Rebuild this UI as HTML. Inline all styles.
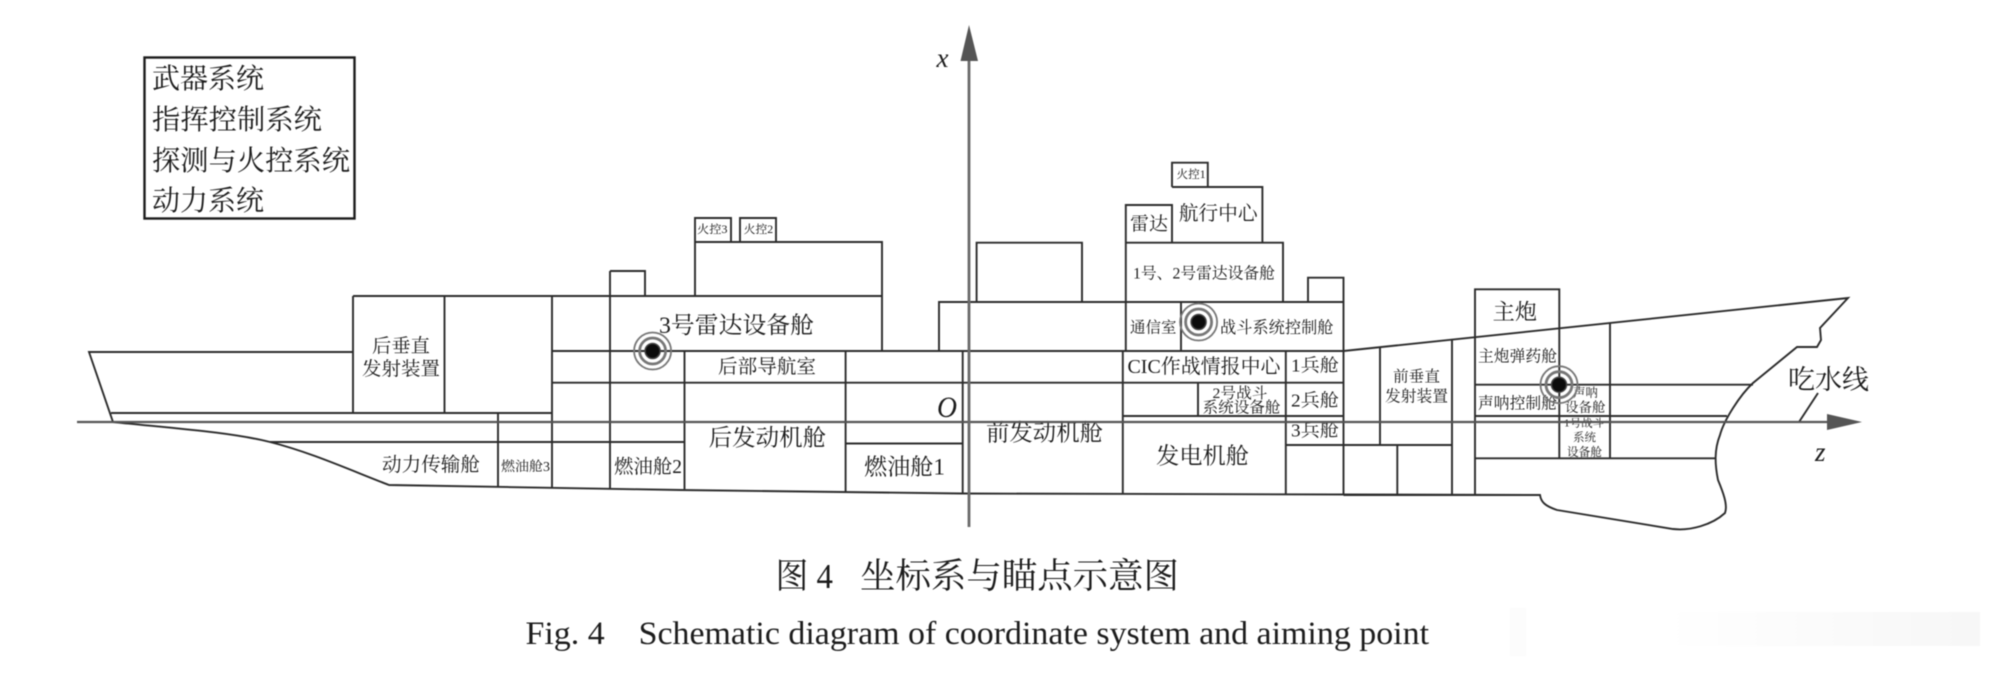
<!DOCTYPE html>
<html lang="zh">
<head>
<meta charset="utf-8">
<title>图4 坐标系与瞄点示意图</title>
<style>
html,body{margin:0;padding:0;background:#fff;width:2000px;height:678px;overflow:hidden}
svg{display:block;filter:blur(0.45px)}
text{font-family:"Liberation Serif","Noto Serif CJK SC",serif;fill:#1c1c1c}
.l{fill:none;stroke:#2c2c2c;stroke-width:1.9}
</style>
</head>
<body>
<svg width="2000" height="678" viewBox="0 0 2000 678" xmlns="http://www.w3.org/2000/svg">
<rect width="2000" height="678" fill="#fff"/>
<defs>
<linearGradient id="g" x1="0" x2="1" y1="0" y2="0"><stop offset="0" stop-color="#fff"/><stop offset="1" stop-color="#f7f7f7"/></linearGradient>
</defs>
<rect x="1670" y="612" width="310" height="34" fill="url(#g)"/>
<rect x="1510" y="608" width="16" height="48" fill="#fcfcfc"/>

<rect x="144.500" y="57.500" width="210" height="161" fill="none" stroke="#1c1c1c" stroke-width="2.400"/>
<g font-size="28">
<text x="152" y="88" textLength="112" lengthAdjust="spacingAndGlyphs">武器系统</text>
<text x="152" y="129" textLength="170" lengthAdjust="spacingAndGlyphs">指挥控制系统</text>
<text x="152" y="170" textLength="198" lengthAdjust="spacingAndGlyphs">探测与火控系统</text>
<text x="152" y="210" textLength="112" lengthAdjust="spacingAndGlyphs">动力系统</text>
</g>

<path class="l" d="M353 352H89L113 422C170 428 230 432 270 442C310 452 350 470 389 485L680 490L962 493.500L1540 495C1541 502 1545 506 1557 510L1673 529C1690 531 1712 525 1725 513C1728 505 1723 492 1718 480C1715 465 1714 450 1720 435C1724 420 1740 395 1753 383L1797 347H1817L1821 340L1820 328L1848 298L1343.500 351"/>
<path class="l" d="M111 413H552M353 296V413M444.500 296V413M498 413V487M552 296V488M610 271V488M610 271H645V296M353 296H882M684.500 351V489M270 442H684.500"/>
<path class="l" d="M695 296V218H731V242M740 242V218H776V242M695 242H882V351M552 351H1343.500M552 382.700H1343.500M845.600 351V492.500M845.600 443.500H962.700M962.700 351V493.500M1122.800 351V494M1285.800 351V494.500"/>
<path class="l" d="M939 351V302H1343.500M976.600 302V242.700H1082V302M1125.800 351V205H1172V242.700M1125.800 242.700H1283V302M1172 187H1262.400V242.700M1172 187V162.700H1207.800V187M1308 302V277.700H1343.500V495M1181 302V351M1122.800 416H1343.500M1198 382.700V416M1285.800 445H1452"/>
<path class="l" d="M1380 347V445M1452 340V495M1475 495V289.300H1559.300V458.300M1610 323V458.300M1475 384.700H1753M1475 416H1727M1475 458.300H1716M1397.300 445V495M1343.500 495H1540"/>
<path class="l" d="M1799 422L1818 393"/>

<g>
<text font-size="19" x="372" y="352" textLength="58" lengthAdjust="spacingAndGlyphs">后垂直</text>
<text font-size="19" x="362" y="375" textLength="78" lengthAdjust="spacingAndGlyphs">发射装置</text>
<text font-size="23.500" x="659" y="333" textLength="155" lengthAdjust="spacingAndGlyphs">3号雷达设备舱</text>
<text font-size="19.500" x="718" y="373" textLength="98" lengthAdjust="spacingAndGlyphs">后部导航室</text>
<text font-size="23.500" x="708.600" y="445.500" textLength="117.500" lengthAdjust="spacingAndGlyphs">后发动机舱</text>
<text font-size="19.500" x="614" y="473" textLength="68" lengthAdjust="spacingAndGlyphs">燃油舱2</text>
<text font-size="13.500" x="501" y="471" textLength="49" lengthAdjust="spacingAndGlyphs">燃油舱3</text>
<text font-size="19.500" x="382" y="471" textLength="98" lengthAdjust="spacingAndGlyphs">动力传输舱</text>
<text font-size="23" x="864" y="474.500" textLength="81" lengthAdjust="spacingAndGlyphs">燃油舱1</text>
<text font-size="23.500" x="986" y="440.500" textLength="117" lengthAdjust="spacingAndGlyphs">前发动机舱</text>
<text font-size="23" x="1156" y="463.500" textLength="93" lengthAdjust="spacingAndGlyphs">发电机舱</text>
<text font-size="20" x="1127.500" y="373" textLength="153" lengthAdjust="spacingAndGlyphs">CIC作战情报中心</text>
<text font-size="18" x="1291" y="371.500" textLength="48" lengthAdjust="spacingAndGlyphs">1兵舱</text>
<text font-size="18" x="1291" y="406.500" textLength="48" lengthAdjust="spacingAndGlyphs">2兵舱</text>
<text font-size="18" x="1291" y="436.500" textLength="48" lengthAdjust="spacingAndGlyphs">3兵舱</text>
<text font-size="15" x="1212.500" y="398" textLength="55" lengthAdjust="spacingAndGlyphs">2号战斗</text>
<text font-size="15.500" x="1202.500" y="412.500" textLength="78" lengthAdjust="spacingAndGlyphs">系统设备舱</text>
<text font-size="15.500" x="1130" y="332.500" textLength="46.500" lengthAdjust="spacingAndGlyphs">通信室</text>
<text font-size="16.200" x="1220" y="333" textLength="113.500" lengthAdjust="spacingAndGlyphs">战斗系统控制舱</text>
<text font-size="16" x="1133" y="278.500" textLength="142" lengthAdjust="spacingAndGlyphs">1号、2号雷达设备舱</text>
<text font-size="19" x="1130" y="230" textLength="38" lengthAdjust="spacingAndGlyphs">雷达</text>
<text font-size="19.700" x="1178.700" y="220" textLength="79" lengthAdjust="spacingAndGlyphs">航行中心</text>
<text font-size="11.500" x="1176.500" y="178" textLength="29" lengthAdjust="spacingAndGlyphs">火控1</text>
<text font-size="11.500" x="697" y="233" textLength="30.500" lengthAdjust="spacingAndGlyphs">火控3</text>
<text font-size="11.500" x="743.700" y="233" textLength="29.500" lengthAdjust="spacingAndGlyphs">火控2</text>
<text font-size="15.500" x="1393" y="381.500" textLength="47" lengthAdjust="spacingAndGlyphs">前垂直</text>
<text font-size="15.800" x="1385" y="401.500" textLength="63" lengthAdjust="spacingAndGlyphs">发射装置</text>
<text font-size="22" x="1492.700" y="319.500" textLength="44.500" lengthAdjust="spacingAndGlyphs">主炮</text>
<text font-size="15.800" x="1478" y="361.500" textLength="79" lengthAdjust="spacingAndGlyphs">主炮弹药舱</text>
<text font-size="15.800" x="1478" y="408.500" textLength="79" lengthAdjust="spacingAndGlyphs">声呐控制舱</text>
<text font-size="12.500" x="1573" y="397" textLength="25" lengthAdjust="spacingAndGlyphs">声呐</text>
<text font-size="13.500" x="1565" y="412" textLength="40.500" lengthAdjust="spacingAndGlyphs">设备舱</text>
<text font-size="10.500" x="1564" y="426.500" textLength="40" lengthAdjust="spacingAndGlyphs">1号战斗</text>
<text font-size="11.500" x="1573" y="441" textLength="23" lengthAdjust="spacingAndGlyphs">系统</text>
<text font-size="11.700" x="1567" y="456" textLength="35" lengthAdjust="spacingAndGlyphs">设备舱</text>
<text font-size="27" x="1788" y="389" textLength="81" lengthAdjust="spacingAndGlyphs">吃水线</text>
<text font-size="30" font-style="italic" x="937" y="417" textLength="20" lengthAdjust="spacingAndGlyphs">O</text>
<text font-size="27" font-style="italic" x="936.500" y="67">x</text>
<text font-size="27" font-style="italic" x="1815" y="461">z</text>
</g>

<path d="M77 422H1830" stroke="#555" stroke-width="2.200" fill="none"/>
<path d="M1827 414L1862 422L1827 430Z" fill="#555"/>
<path d="M969 527V60" stroke="#6a6a6a" stroke-width="2.800" fill="none"/>
<path d="M969 25L978 61H960.500Z" fill="#555"/>

<g fill="none">
<circle cx="652.600" cy="351" r="18.500" stroke="#777" stroke-width="1.800"/>
<circle cx="652.600" cy="351" r="13" stroke="#777" stroke-width="2.800"/>
<circle cx="652.600" cy="351" r="7.500" fill="#0c0c0c" stroke="#444" stroke-width="1.500"/>
</g>
<g fill="none">
<circle cx="1198.600" cy="322" r="18.500" stroke="#777" stroke-width="1.800"/>
<circle cx="1198.600" cy="322" r="13" stroke="#777" stroke-width="2.800"/>
<circle cx="1198.600" cy="322" r="7.500" fill="#0c0c0c" stroke="#444" stroke-width="1.500"/>
</g>
<g fill="none">
<circle cx="1559" cy="384.700" r="18.500" stroke="#777" stroke-width="1.800"/>
<circle cx="1559" cy="384.700" r="13" stroke="#777" stroke-width="2.800"/>
<circle cx="1559" cy="384.700" r="7.500" fill="#0c0c0c" stroke="#444" stroke-width="1.500"/>
</g>

<text font-size="35" x="775.500" y="588" textLength="57.500" lengthAdjust="spacingAndGlyphs" xml:space="preserve">图 4</text>
<text font-size="35" x="860" y="588" textLength="319" lengthAdjust="spacingAndGlyphs">坐标系与瞄点示意图</text>
<text font-size="33" x="525.500" y="644" textLength="903.500" lengthAdjust="spacingAndGlyphs" xml:space="preserve">Fig. 4    Schematic diagram of coordinate system and aiming point</text>
</svg>
</body>
</html>
